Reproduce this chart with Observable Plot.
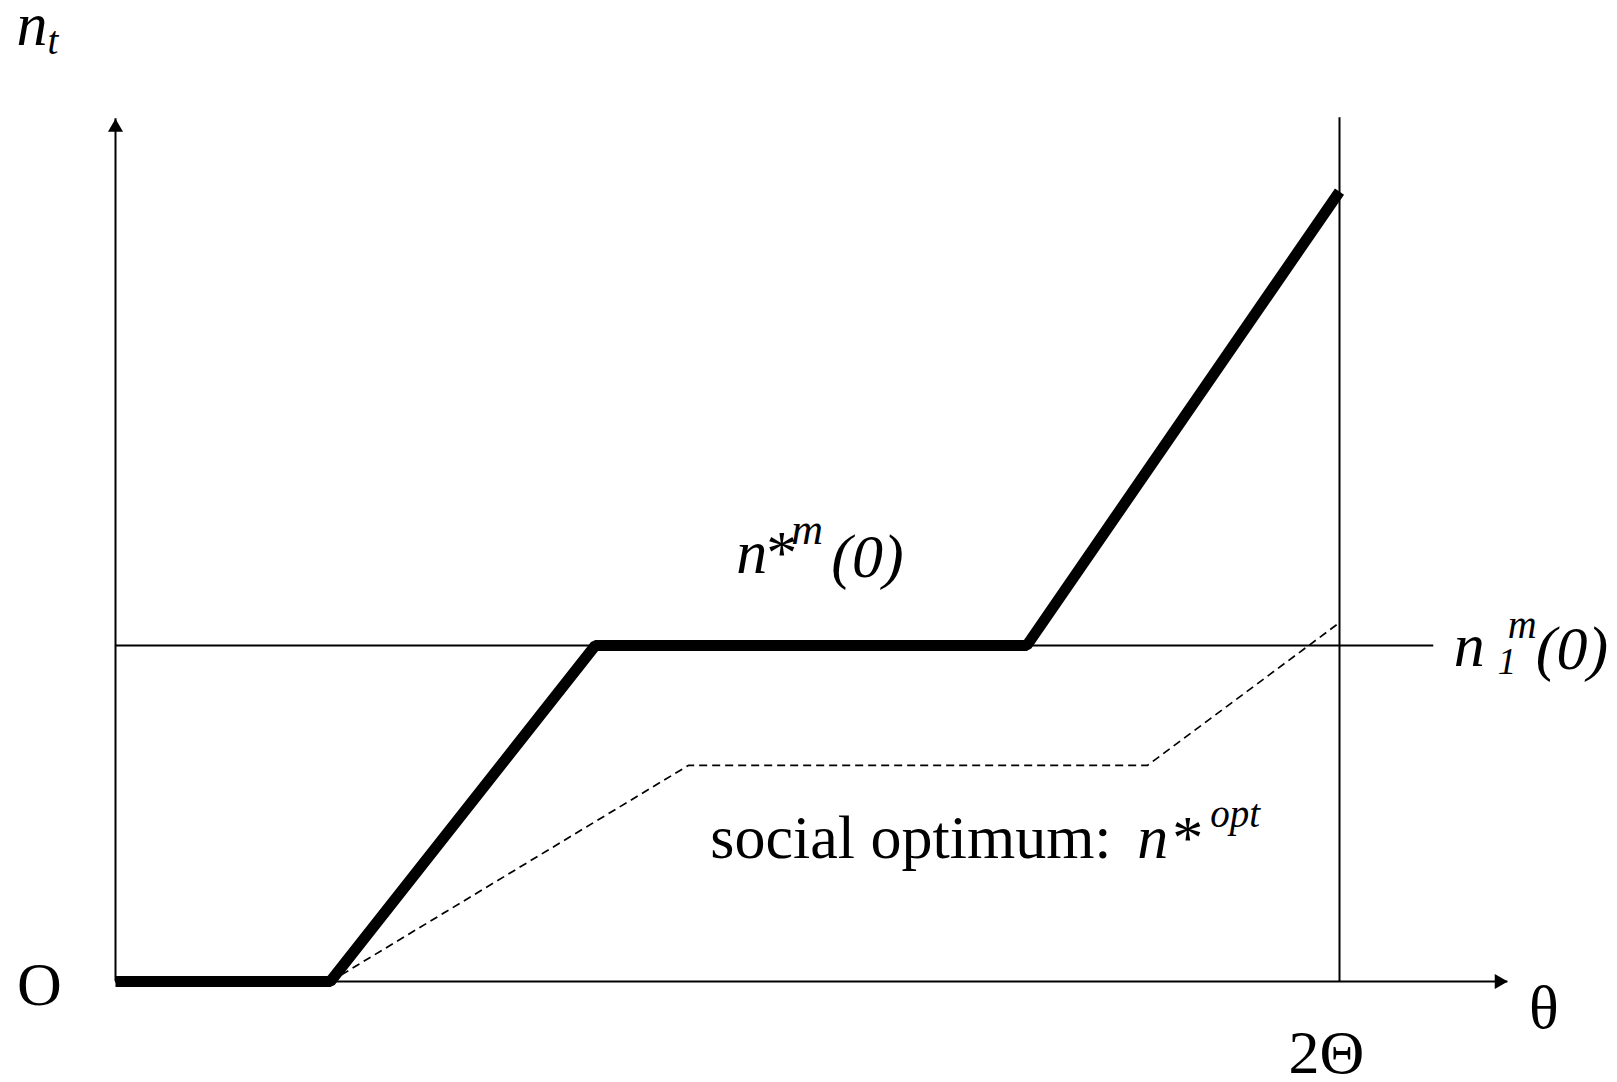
<!DOCTYPE html>
<html>
<head>
<meta charset="utf-8">
<script src="https://cdn.jsdelivr.net/npm/d3@7"></script>
<script src="https://cdn.jsdelivr.net/npm/@observablehq/plot@0.6"></script>
<style>
  html, body { margin: 0; padding: 0; background: #ffffff; }
  #chart svg { display: block; }
</style>
</head>
<body>
<div id="chart"></div>
<script>
// --- Data (θ in units of Θ, n in units of n1^m(0)) ---
const eqTheta = [0, 0.351, 0.784, 1.489, 2.0];      // market equilibrium n*^m(0)
const eqN     = [0, 0, 1, 1, 2.351];
const optTheta = [0.351, 0.936, 1.686, 2.0];         // social optimum n*^opt
const optN     = [0, 0.643, 0.643, 1.068];
const n1m = 1;            // level n1^m(0)
const twoTheta = 2;       // 2Θ
const xMax = 2.275;       // end of θ axis (arrow tip)
const yMax = 2.568;       // end of n_t axis (arrow tip)
const n1mLineEnd = 2.154; // end of the n1^m(0) line
const twoThetaTop = 2.571;// top of the 2Θ line
const axisLabels = ["O", "θ", "2Θ"];

const eqData = eqTheta.map((t, i) => ({t, n: eqN[i]}));
const optData = optTheta.map((t, i) => ({t, n: optN[i]}));

const serif = "Liberation Serif, Times New Roman, serif";
const MAIN = 62, SMALL = 39;

function piece(str, x, y, dx, dy, size, italic, anchor = "start") {
  return Plot.text([str], {
    x, y, dx, dy, text: d => d,
    fontSize: size, fontStyle: italic ? "italic" : "normal",
    fontFamily: serif, fill: "black",
    textAnchor: anchor, lineAnchor: "bottom"
  });
}

const plot = Plot.plot({
  width: 1617,
  height: 1082,
  margin: 0,
  style: {background: "#ffffff", fontFamily: serif},
  x: {domain: [0, 2], range: [115, 1339], axis: null},
  y: {domain: [0, 1], range: [981, 645], axis: null},
  marks: [
    // axes
    Plot.ruleY([0], {x1: 0, x2: xMax, stroke: "black", strokeWidth: 2}),
    Plot.ruleX([0], {y1: 0, y2: yMax, stroke: "black", strokeWidth: 2}),
    Plot.dot([0], {x: 0, y: yMax, dy: 8.7, symbol: "triangle", r: 5.6, fill: "black", stroke: "none"}),
    Plot.dot([0], {x: xMax, y: 0, dx: -8.7, symbol: "triangle", rotate: 90, r: 5.6, fill: "black", stroke: "none"}),
    // reference lines
    Plot.ruleY([n1m], {x1: 0, x2: n1mLineEnd, stroke: "black", strokeWidth: 2}),
    Plot.ruleX([twoTheta], {y1: 0, y2: twoThetaTop, stroke: "black", strokeWidth: 2}),
    // social optimum (dashed)
    Plot.line(optData, {x: "t", y: "n", stroke: "black", strokeWidth: 1.7, strokeDasharray: "8,5", strokeLinecap: "butt"}),
    // market equilibrium (thick)
    Plot.line(eqData, {x: "t", y: "n", stroke: "black", strokeWidth: 11, strokeLinecap: "butt", strokeLinejoin: "miter"}),
    // axis labels
    piece("n", 0, yMax, -99, -74, MAIN, true),
    piece("t", 0, yMax, -68, -65, SMALL, true),
    piece(axisLabels[0], 0, 0, -76, 23, MAIN, false, "middle"),
    piece(axisLabels[1], xMax, 0, 36, 46, MAIN, false, "middle"),
    piece(axisLabels[2], twoTheta, 0, -13, 91, MAIN, false, "middle"),
    // n1^m(0)
    piece("n", n1mLineEnd, n1m, 20, 20, MAIN, true),
    piece("1", n1mLineEnd, n1m, 64, 28, SMALL - 2, true),
    piece("m", n1mLineEnd, n1m, 74, -8, SMALL + 1, true),
    piece("(0)", n1mLineEnd, n1m, 102, 23, MAIN, true),
    // n*^m(0)
    piece("n", eqTheta[2], eqN[2], 141, -73, MAIN, true),
    piece("*", eqTheta[2], eqN[2], 171, -73, MAIN, false),
    piece("m", eqTheta[2], eqN[2], 196, -102, SMALL + 5, true),
    piece("(0)", eqTheta[2], eqN[2], 236, -69, MAIN, true),
    // social optimum: n*^opt
    piece("social optimum:", optTheta[2], optN[2], -437, 93, MAIN, false),
    piece("n", optTheta[2], optN[2], -10, 93, MAIN, true),
    piece("*", optTheta[2], optN[2], 25, 93, MAIN, false),
    piece("opt", optTheta[2], optN[2], 63, 62, SMALL, true)
  ]
});

document.getElementById("chart").appendChild(plot);
</script>
</body>
</html>
